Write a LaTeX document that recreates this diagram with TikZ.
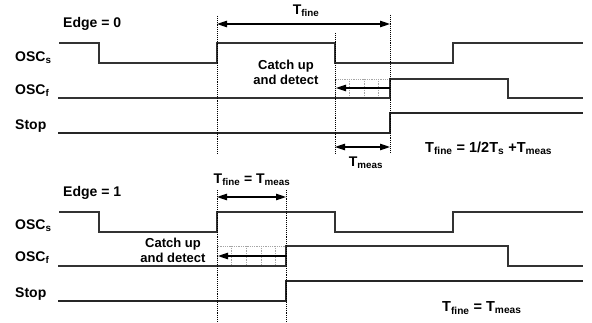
\documentclass[tikz,border=0pt]{standalone}
\usepackage{fontspec}
\setmainfont{Liberation Sans}
\usetikzlibrary{arrows.meta}
\begin{document}
\begin{tikzpicture}[x=1pt,y=-1pt,
  sig/.style={line width=1.2pt, draw=black!80},
  stopsig/.style={line width=2.5pt, draw=black!85},
  guide/.style={densely dotted, line width=0.9pt, draw=black},
  gridline/.style={densely dotted, draw=black!35, line width=0.8pt},
  onetip/.style={-{Triangle[length=10pt,width=6.5pt]}, line width=1.1pt},
  twotip/.style={{Triangle[length=10pt,width=6.5pt]}-{Triangle[length=10pt,width=6.5pt]}, line width=1.1pt},
  lab/.style={font=\bfseries\fontsize{14}{16}\selectfont, inner sep=0pt},
  txt/.style={font=\bfseries\fontsize{13}{15}\selectfont, inner sep=0pt, align=center},
  eqn/.style={font=\bfseries\fontsize{14.5}{16}\selectfont, inner sep=0pt}
]
\useasboundingbox[fill=white] (0,0) rectangle (592,323);

% ---------- top panel ----------
\node[lab, anchor=west] (edge0) at (63,24) {Edge = 0};
\node[lab, anchor=west] (oscsA) at (15,58) {OSC\textsubscript{s}};
\node[lab, anchor=west] (oscfA) at (15,91) {OSC\textsubscript{f}};
\node[lab, anchor=west] (stopA) at (15,126) {Stop};

\draw[gridline] (335,79) rectangle (390,98);
\foreach \xx in {349.5,364,378.5} \draw[gridline] (\xx,79) -- (\xx,98);

\draw[sig] (59,43) -- (99,43) -- (99,63) -- (217,63) -- (217,43) -- (335,43) -- (335,63) -- (453,63) -- (453,43) -- (583,43);
\draw[sig] (58,98) -- (390,98) -- (390,79) -- (508,79) -- (508,98) -- (583,98);
\draw[stopsig] (58,133) -- (390,133) -- (390,113) -- (583,113);

\coordinate (gA1t) at (217,16); \coordinate (gA1b) at (217,153);
\coordinate (gA2t) at (335,33); \coordinate (gA2b) at (335,153);
\coordinate (gA3t) at (390,15); \coordinate (gA3b) at (390,153);
\draw[guide] (gA1t) -- (gA1b);
\draw[guide] (gA2t) -- (gA2b);
\draw[guide] (gA3t) -- (gA3b);

\coordinate (tfA1) at (217,24); \coordinate (tfA2) at (390,24);
\draw[twotip] (tfA1) -- (tfA2);
\node[lab] (tfineA) at (306,11) {T\textsubscript{fine}};

\node[txt] (catchA) at (286,72) {Catch up\\and detect};
\coordinate (caA1) at (390,88); \coordinate (caA2) at (336,88);
\draw[onetip] (caA1) -- (caA2);

\coordinate (tmA1) at (335,147); \coordinate (tmA2) at (390,147);
\draw[twotip] (tmA1) -- (tmA2);
\node[lab] (tmeasA) at (366,163) {T\textsubscript{meas}};

\node[eqn, anchor=west] (formA) at (425,148) {T\textsubscript{fine} = 1/2T\textsubscript{s} +T\textsubscript{meas}};

% ---------- bottom panel ----------
\node[lab, anchor=west] (edge1) at (63,193) {Edge = 1};
\node[lab, anchor=west] (oscsB) at (15,226) {OSC\textsubscript{s}};
\node[lab, anchor=west] (oscfB) at (15,258) {OSC\textsubscript{f}};
\node[lab, anchor=west] (stopB) at (15,294) {Stop};

\draw[gridline] (217,246) rectangle (286,266);
\foreach \xx in {231,246,261,275} \draw[gridline] (\xx,246) -- (\xx,266);

\draw[sig] (59,212) -- (99,212) -- (99,232) -- (217,232) -- (217,212) -- (335,212) -- (335,232) -- (453,232) -- (453,212) -- (583,212);
\draw[sig] (58,266) -- (286,266) -- (286,246) -- (508,246) -- (508,266) -- (583,266);
\draw[stopsig] (58,301) -- (286,301) -- (286,281) -- (583,281);

\coordinate (gB1t) at (217,190); \coordinate (gB1b) at (217,323);
\coordinate (gB2t) at (286,190); \coordinate (gB2b) at (286,323);
\draw[guide] (gB1t) -- (gB1b);
\draw[guide] (gB2t) -- (gB2b);

\coordinate (tfB1) at (217,197); \coordinate (tfB2) at (286,197);
\draw[twotip] (tfB1) -- (tfB2);
\node[lab] (tfineB) at (252,180) {T\textsubscript{fine} = T\textsubscript{meas}};

\node[txt] (catchB) at (173,250) {Catch up\\and detect};
\coordinate (caB1) at (286,256); \coordinate (caB2) at (218,256);
\draw[onetip] (caB1) -- (caB2);

\node[eqn, anchor=west] (formB) at (442,308) {T\textsubscript{fine} = T\textsubscript{meas}};
\end{tikzpicture}
\end{document}
